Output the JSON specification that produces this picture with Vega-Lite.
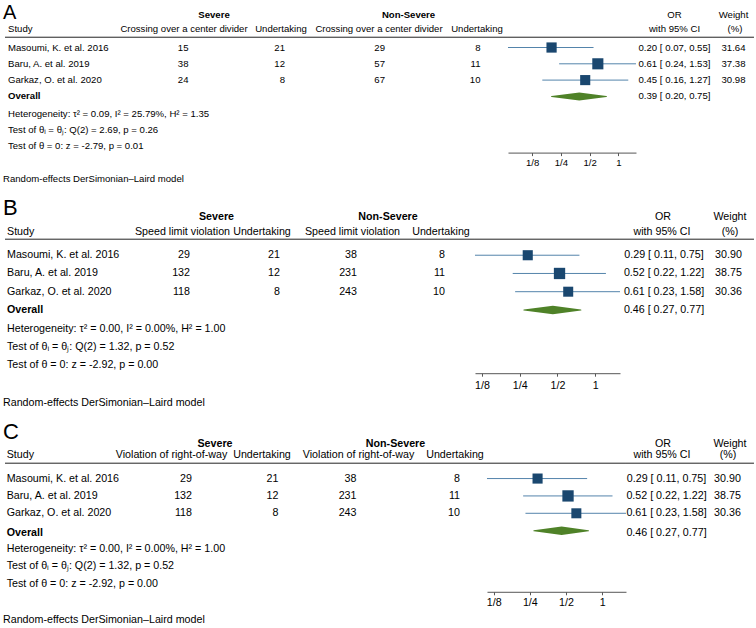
{
  "$schema": "https://vega.github.io/schema/vega-lite/v6.json",
  "padding": {"left": 3, "top": 2.6, "right": 0, "bottom": 0},
  "background": "#ffffff",
  "config": {"view": {"stroke": null}, "text": {"font": "Liberation Sans", "color": "#000000"}, "title": {"font": "Liberation Sans"}},
  "spacing": 12.6,
  "datasets": {
    "A": [
      {"row": "Masoumi, K. et al. 2016", "sev_exp": 15, "sev_und": 21, "ns_exp": 29, "ns_und": 8, "or": 0.20, "lo": 0.07, "hi": 0.55, "ci": "0.20 [ 0.07, 0.55]", "weight": 31.64},
      {"row": "Baru, A. et al. 2019", "sev_exp": 38, "sev_und": 12, "ns_exp": 57, "ns_und": 11, "or": 0.61, "lo": 0.24, "hi": 1.53, "ci": "0.61 [ 0.24, 1.53]", "weight": 37.38},
      {"row": "Garkaz, O. et al. 2020", "sev_exp": 24, "sev_und": 8, "ns_exp": 67, "ns_und": 10, "or": 0.45, "lo": 0.16, "hi": 1.27, "ci": "0.45 [ 0.16, 1.27]", "weight": 30.98}
    ],
    "A_ov": [{"row": "Overall", "or": 0.39, "lo": 0.20, "hi": 0.75, "ci": "0.39 [ 0.20, 0.75]"}],
    "A_txt": [
      {"col": "study", "row": "h1", "text": "A"},
      {"col": "study", "row": "h2", "text": "Study"},
      {"col": "study", "row": "het", "text": "Heterogeneity: τ² = 0.09, I² = 25.79%, H² = 1.35"},
      {"col": "study", "row": "q", "text": "Test of θᵢ = θⱼ: Q(2) = 2.69, p = 0.26"},
      {"col": "study", "row": "z", "text": "Test of θ = 0: z = -2.79, p = 0.01"},
      {"col": "sev_exp", "row": "h1", "text": "Severe"},
      {"col": "sev_exp", "row": "h2", "text": "Crossing over a center divider"},
      {"col": "sev_und", "row": "h2", "text": "Undertaking"},
      {"col": "ns_exp", "row": "h1", "text": "Non-Severe"},
      {"col": "ns_exp", "row": "h2", "text": "Crossing over a center divider"},
      {"col": "ns_und", "row": "h2", "text": "Undertaking"},
      {"col": "or", "row": "h1", "text": "OR"},
      {"col": "or", "row": "h2", "text": "with 95% CI"},
      {"col": "w", "row": "h1", "text": "Weight"},
      {"col": "w", "row": "h2", "text": "(%)"}
    ],
    "B": [
      {"row": "Masoumi, K. et al. 2016", "sev_exp": 29, "sev_und": 21, "ns_exp": 38, "ns_und": 8, "or": 0.29, "lo": 0.11, "hi": 0.75, "ci": "0.29 [ 0.11, 0.75]", "weight": 30.90},
      {"row": "Baru, A. et al. 2019", "sev_exp": 132, "sev_und": 12, "ns_exp": 231, "ns_und": 11, "or": 0.52, "lo": 0.22, "hi": 1.22, "ci": "0.52 [ 0.22, 1.22]", "weight": 38.75},
      {"row": "Garkaz, O. et al. 2020", "sev_exp": 118, "sev_und": 8, "ns_exp": 243, "ns_und": 10, "or": 0.61, "lo": 0.23, "hi": 1.58, "ci": "0.61 [ 0.23, 1.58]", "weight": 30.36}
    ],
    "B_ov": [{"row": "Overall", "or": 0.46, "lo": 0.27, "hi": 0.77, "ci": "0.46 [ 0.27, 0.77]"}],
    "B_txt": [
      {"col": "study", "row": "h1", "text": "B"},
      {"col": "study", "row": "h2", "text": "Study"},
      {"col": "study", "row": "het", "text": "Heterogeneity: τ² = 0.00, I² = 0.00%, H² = 1.00"},
      {"col": "study", "row": "q", "text": "Test of θᵢ = θⱼ: Q(2) = 1.32, p = 0.52"},
      {"col": "study", "row": "z", "text": "Test of θ = 0: z = -2.92, p = 0.00"},
      {"col": "sev_exp", "row": "h1", "text": "Severe"},
      {"col": "sev_exp", "row": "h2", "text": "Speed limit violation"},
      {"col": "sev_und", "row": "h2", "text": "Undertaking"},
      {"col": "ns_exp", "row": "h1", "text": "Non-Severe"},
      {"col": "ns_exp", "row": "h2", "text": "Speed limit violation"},
      {"col": "ns_und", "row": "h2", "text": "Undertaking"},
      {"col": "or", "row": "h1", "text": "OR"},
      {"col": "or", "row": "h2", "text": "with 95% CI"},
      {"col": "w", "row": "h1", "text": "Weight"},
      {"col": "w", "row": "h2", "text": "(%)"}
    ],
    "C": [
      {"row": "Masoumi, K. et al. 2016", "sev_exp": 29, "sev_und": 21, "ns_exp": 38, "ns_und": 8, "or": 0.29, "lo": 0.11, "hi": 0.75, "ci": "0.29 [ 0.11, 0.75]", "weight": 30.90},
      {"row": "Baru, A. et al. 2019", "sev_exp": 132, "sev_und": 12, "ns_exp": 231, "ns_und": 11, "or": 0.52, "lo": 0.22, "hi": 1.22, "ci": "0.52 [ 0.22, 1.22]", "weight": 38.75},
      {"row": "Garkaz, O. et al. 2020", "sev_exp": 118, "sev_und": 8, "ns_exp": 243, "ns_und": 10, "or": 0.61, "lo": 0.23, "hi": 1.58, "ci": "0.61 [ 0.23, 1.58]", "weight": 30.36}
    ],
    "C_ov": [{"row": "Overall", "or": 0.46, "lo": 0.27, "hi": 0.77, "ci": "0.46 [ 0.27, 0.77]"}],
    "C_txt": [
      {"col": "study", "row": "h1", "text": "C"},
      {"col": "study", "row": "h2", "text": "Study"},
      {"col": "study", "row": "het", "text": "Heterogeneity: τ² = 0.00, I² = 0.00%, H² = 1.00"},
      {"col": "study", "row": "q", "text": "Test of θᵢ = θⱼ: Q(2) = 1.32, p = 0.52"},
      {"col": "study", "row": "z", "text": "Test of θ = 0: z = -2.92, p = 0.00"},
      {"col": "sev_exp", "row": "h1", "text": "Severe"},
      {"col": "sev_exp", "row": "h2", "text": "Violation of right-of-way"},
      {"col": "sev_und", "row": "h2", "text": "Undertaking"},
      {"col": "ns_exp", "row": "h1", "text": "Non-Severe"},
      {"col": "ns_exp", "row": "h2", "text": "Violation of right-of-way"},
      {"col": "ns_und", "row": "h2", "text": "Undertaking"},
      {"col": "or", "row": "h1", "text": "OR"},
      {"col": "or", "row": "h2", "text": "with 95% CI"},
      {"col": "w", "row": "h1", "text": "Weight"},
      {"col": "w", "row": "h2", "text": "(%)"}
    ]
  },
  "vconcat": [
    {
      "title": {"text": "Random-effects DerSimonian–Laird model", "orient": "bottom", "anchor": "start", "fontSize": 9.6, "fontWeight": "normal", "color": "#000000", "offset": 7},
      "bounds": "flush",
      "spacing": 0,
      "hconcat": [
        {
          "width": 113, "height": 145,
          "encoding": {"y": {"field": "row", "type": "nominal", "axis": null, "scale": {"type": "point", "padding": 0.45, "domain": ["h1", "h2", "Masoumi, K. et al. 2016", "Baru, A. et al. 2019", "Garkaz, O. et al. 2020", "Overall", "het", "q", "z"]}}},
          "layer": [
            {"data": {"name": "A_txt"}, "transform": [{"filter": "datum.col=='study' && datum.row=='h2'"}], "mark": {"type": "rule", "yOffset": 6, "color": "#222222"}, "encoding": {}},
            {"data": {"name": "A_txt"}, "transform": [{"filter": "datum.col=='study' && datum.row=='h1'"}], "mark": {"type": "text", "align": "left", "baseline": "alphabetic", "fontSize": 20, "dx": -58.5, "dy": 3.7}, "encoding": {"text": {"field": "text"}}},
            {"data": {"name": "A_txt"}, "transform": [{"filter": "datum.col=='study' && datum.row=='h2'"}], "mark": {"type": "text", "align": "left", "fontSize": 9.6, "dx": -53.5, "dy": -2.6}, "encoding": {"text": {"field": "text"}}},
            {"data": {"name": "A"}, "mark": {"type": "text", "align": "left", "fontSize": 9.6, "dx": -53.5}, "encoding": {"text": {"field": "row"}}},
            {"data": {"name": "A_ov"}, "mark": {"type": "text", "align": "left", "fontSize": 9.6, "fontWeight": "bold", "dx": -53.5}, "encoding": {"text": {"field": "row"}}},
            {"data": {"name": "A_txt"}, "transform": [{"filter": "datum.col=='study' && indexof(['het','q','z'], datum.row) >= 0"}], "mark": {"type": "text", "align": "left", "fontSize": 9.6, "dx": -53.5, "dy": 1}, "encoding": {"text": {"field": "text"}}}
          ]
        },
        {
          "width": 132, "height": 145,
          "encoding": {"y": {"field": "row", "type": "nominal", "axis": null, "scale": {"type": "point", "padding": 0.45, "domain": ["h1", "h2", "Masoumi, K. et al. 2016", "Baru, A. et al. 2019", "Garkaz, O. et al. 2020", "Overall", "het", "q", "z"]}}},
          "layer": [
            {"data": {"name": "A_txt"}, "transform": [{"filter": "datum.col=='study' && datum.row=='h2'"}], "mark": {"type": "rule", "yOffset": 6, "color": "#222222"}, "encoding": {}},
            {"data": {"name": "A_txt"}, "transform": [{"filter": "datum.col=='sev_exp' && datum.row=='h1'"}], "mark": {"type": "text", "fontSize": 9.6, "fontWeight": "bold", "dx": 30}, "encoding": {"text": {"field": "text"}}},
            {"data": {"name": "A_txt"}, "transform": [{"filter": "datum.col=='sev_exp' && datum.row=='h2'"}], "mark": {"type": "text", "fontSize": 9.6, "dy": -2.6}, "encoding": {"text": {"field": "text"}}},
            {"data": {"name": "A"}, "mark": {"type": "text", "align": "right", "fontSize": 9.6, "dx": 4.5}, "encoding": {"text": {"field": "sev_exp", "type": "quantitative"}}}
          ]
        },
        {
          "width": 62, "height": 145,
          "encoding": {"y": {"field": "row", "type": "nominal", "axis": null, "scale": {"type": "point", "padding": 0.45, "domain": ["h1", "h2", "Masoumi, K. et al. 2016", "Baru, A. et al. 2019", "Garkaz, O. et al. 2020", "Overall", "het", "q", "z"]}}},
          "layer": [
            {"data": {"name": "A_txt"}, "transform": [{"filter": "datum.col=='study' && datum.row=='h2'"}], "mark": {"type": "rule", "yOffset": 6, "color": "#222222"}, "encoding": {}},
            {"data": {"name": "A_txt"}, "transform": [{"filter": "datum.col=='sev_und' && datum.row=='h2'"}], "mark": {"type": "text", "fontSize": 9.6, "dy": -2.6}, "encoding": {"text": {"field": "text"}}},
            {"data": {"name": "A"}, "mark": {"type": "text", "align": "right", "fontSize": 9.6, "dx": 4}, "encoding": {"text": {"field": "sev_und", "type": "quantitative"}}}
          ]
        },
        {
          "width": 134, "height": 145,
          "encoding": {"y": {"field": "row", "type": "nominal", "axis": null, "scale": {"type": "point", "padding": 0.45, "domain": ["h1", "h2", "Masoumi, K. et al. 2016", "Baru, A. et al. 2019", "Garkaz, O. et al. 2020", "Overall", "het", "q", "z"]}}},
          "layer": [
            {"data": {"name": "A_txt"}, "transform": [{"filter": "datum.col=='study' && datum.row=='h2'"}], "mark": {"type": "rule", "yOffset": 6, "color": "#222222"}, "encoding": {}},
            {"data": {"name": "A_txt"}, "transform": [{"filter": "datum.col=='ns_exp' && datum.row=='h1'"}], "mark": {"type": "text", "fontSize": 9.6, "fontWeight": "bold", "dx": 29.5}, "encoding": {"text": {"field": "text"}}},
            {"data": {"name": "A_txt"}, "transform": [{"filter": "datum.col=='ns_exp' && datum.row=='h2'"}], "mark": {"type": "text", "fontSize": 9.6, "dy": -2.6}, "encoding": {"text": {"field": "text"}}},
            {"data": {"name": "A"}, "mark": {"type": "text", "align": "right", "fontSize": 9.6, "dx": 6}, "encoding": {"text": {"field": "ns_exp", "type": "quantitative"}}}
          ]
        },
        {
          "width": 62, "height": 145,
          "encoding": {"y": {"field": "row", "type": "nominal", "axis": null, "scale": {"type": "point", "padding": 0.45, "domain": ["h1", "h2", "Masoumi, K. et al. 2016", "Baru, A. et al. 2019", "Garkaz, O. et al. 2020", "Overall", "het", "q", "z"]}}},
          "layer": [
            {"data": {"name": "A_txt"}, "transform": [{"filter": "datum.col=='study' && datum.row=='h2'"}], "mark": {"type": "rule", "yOffset": 6, "color": "#222222"}, "encoding": {}},
            {"data": {"name": "A_txt"}, "transform": [{"filter": "datum.col=='ns_und' && datum.row=='h2'"}], "mark": {"type": "text", "fontSize": 9.6, "dy": -2.6}, "encoding": {"text": {"field": "text"}}},
            {"data": {"name": "A"}, "mark": {"type": "text", "align": "right", "fontSize": 9.6, "dx": 3.5}, "encoding": {"text": {"field": "ns_und", "type": "quantitative"}}}
          ]
        },
        {
          "width": 128, "height": 145,
          "encoding": {"y": {"field": "row", "type": "nominal", "axis": null, "scale": {"type": "point", "padding": 0.45, "domain": ["h1", "h2", "Masoumi, K. et al. 2016", "Baru, A. et al. 2019", "Garkaz, O. et al. 2020", "Overall", "het", "q", "z"]}}},
          "layer": [
            {"data": {"name": "A_txt"}, "transform": [{"filter": "datum.col=='study' && datum.row=='h2'"}], "mark": {"type": "rule", "yOffset": 6, "color": "#222222"}, "encoding": {}},
            {"data": {"name": "A"}, "mark": {"type": "rule", "color": "#5384ab", "strokeWidth": 1}, "encoding": {"x": {"field": "lo", "type": "quantitative", "scale": {"type": "log", "base": 2, "domain": [0.07, 1.53], "nice": false, "zero": false}, "axis": {"orient": "bottom", "values": [0.125, 0.25, 0.5, 1], "labelExpr": "datum.value == 0.125 ? '1/8' : datum.value == 0.25 ? '1/4' : datum.value == 0.5 ? '1/2' : '1'", "title": null, "grid": false, "domainColor": "#555555", "tickColor": "#555555", "tickSize": 3, "labelFontSize": 9.6, "labelFont": "Liberation Sans", "labelColor": "#000000", "labelPadding": 2, "labelFlush": false, "labelOverlap": false}}, "x2": {"field": "hi"}}},
            {"data": {"name": "A"}, "mark": {"type": "point", "shape": "square", "filled": true, "opacity": 1, "color": "#1a476f"}, "encoding": {"x": {"field": "or", "type": "quantitative"}, "size": {"field": "weight", "type": "quantitative", "scale": {"domain": [0, 40], "range": [0, 132]}, "legend": null}}},
            {"data": {"name": "A_ov"}, "transform": [{"fold": ["lo", "or", "hi"], "as": ["key", "val"]}], "mark": {"type": "trail", "color": "#4f8228"}, "encoding": {"x": {"field": "val", "type": "quantitative"}, "size": {"condition": {"test": "datum.key=='or'", "value": 8}, "value": 0}}}
          ]
        },
        {
          "width": 77, "height": 145,
          "encoding": {"y": {"field": "row", "type": "nominal", "axis": null, "scale": {"type": "point", "padding": 0.45, "domain": ["h1", "h2", "Masoumi, K. et al. 2016", "Baru, A. et al. 2019", "Garkaz, O. et al. 2020", "Overall", "het", "q", "z"]}}},
          "layer": [
            {"data": {"name": "A_txt"}, "transform": [{"filter": "datum.col=='study' && datum.row=='h2'"}], "mark": {"type": "rule", "yOffset": 6, "color": "#222222"}, "encoding": {}},
            {"data": {"name": "A_txt"}, "transform": [{"filter": "datum.col=='or' && datum.row=='h1'"}], "mark": {"type": "text", "fontSize": 9.6}, "encoding": {"text": {"field": "text"}}},
            {"data": {"name": "A_txt"}, "transform": [{"filter": "datum.col=='or' && datum.row=='h2'"}], "mark": {"type": "text", "fontSize": 9.6, "dy": -2.6}, "encoding": {"text": {"field": "text"}}},
            {"data": {"name": "A"}, "mark": {"type": "text", "fontSize": 9.6}, "encoding": {"text": {"field": "ci"}}},
            {"data": {"name": "A_ov"}, "mark": {"type": "text", "fontSize": 9.6}, "encoding": {"text": {"field": "ci"}}}
          ]
        },
        {
          "width": 41, "height": 145,
          "encoding": {"y": {"field": "row", "type": "nominal", "axis": null, "scale": {"type": "point", "padding": 0.45, "domain": ["h1", "h2", "Masoumi, K. et al. 2016", "Baru, A. et al. 2019", "Garkaz, O. et al. 2020", "Overall", "het", "q", "z"]}}},
          "layer": [
            {"data": {"name": "A_txt"}, "transform": [{"filter": "datum.col=='study' && datum.row=='h2'"}], "mark": {"type": "rule", "yOffset": 6, "color": "#222222"}, "encoding": {}},
            {"data": {"name": "A_txt"}, "transform": [{"filter": "datum.col=='w' && datum.row=='h1'"}], "mark": {"type": "text", "fontSize": 9.6}, "encoding": {"text": {"field": "text"}}},
            {"data": {"name": "A_txt"}, "transform": [{"filter": "datum.col=='w' && datum.row=='h2'"}], "mark": {"type": "text", "fontSize": 9.6, "dy": -2.6, "dx": 1.5}, "encoding": {"text": {"field": "text"}}},
            {"data": {"name": "A"}, "mark": {"type": "text", "fontSize": 9.6}, "encoding": {"text": {"field": "weight", "type": "quantitative", "format": ".2f"}}}
          ]
        }
      ]
    },
    {
      "title": {"text": "Random-effects DerSimonian–Laird model", "orient": "bottom", "anchor": "start", "fontSize": 10.7, "fontWeight": "normal", "color": "#000000", "offset": 7.8},
      "bounds": "flush",
      "spacing": 0,
      "hconcat": [
        {
          "width": 125, "height": 163,
          "encoding": {"y": {"field": "row", "type": "nominal", "axis": null, "scale": {"type": "point", "padding": 0.47, "domain": ["h1", "h2", "Masoumi, K. et al. 2016", "Baru, A. et al. 2019", "Garkaz, O. et al. 2020", "Overall", "het", "q", "z"]}}},
          "layer": [
            {"data": {"name": "B_txt"}, "transform": [{"filter": "datum.col=='study' && datum.row=='h2'"}], "mark": {"type": "rule", "yOffset": 2.2, "color": "#222222"}, "encoding": {}},
            {"data": {"name": "B_txt"}, "transform": [{"filter": "datum.col=='study' && datum.row=='h1'"}], "mark": {"type": "text", "align": "left", "baseline": "alphabetic", "fontSize": 22, "dx": -64.5, "dy": -3.5}, "encoding": {"text": {"field": "text"}}},
            {"data": {"name": "B_txt"}, "transform": [{"filter": "datum.col=='study' && datum.row=='h2'"}], "mark": {"type": "text", "align": "left", "fontSize": 10.7, "dx": -60.5, "dy": -5}, "encoding": {"text": {"field": "text"}}},
            {"data": {"name": "B"}, "mark": {"type": "text", "align": "left", "fontSize": 10.7, "dx": -60.5}, "encoding": {"text": {"field": "row"}}},
            {"data": {"name": "B_ov"}, "mark": {"type": "text", "align": "left", "fontSize": 10.7, "fontWeight": "bold", "dx": -60.5}, "encoding": {"text": {"field": "row"}}},
            {"data": {"name": "B_txt"}, "transform": [{"filter": "datum.col=='study' && indexof(['het','q','z'], datum.row) >= 0"}], "mark": {"type": "text", "align": "left", "fontSize": 10.7, "dx": -60.5, "dy": 0.5}, "encoding": {"text": {"field": "text"}}}
          ]
        },
        {
          "width": 105, "height": 163,
          "encoding": {"y": {"field": "row", "type": "nominal", "axis": null, "scale": {"type": "point", "padding": 0.47, "domain": ["h1", "h2", "Masoumi, K. et al. 2016", "Baru, A. et al. 2019", "Garkaz, O. et al. 2020", "Overall", "het", "q", "z"]}}},
          "layer": [
            {"data": {"name": "B_txt"}, "transform": [{"filter": "datum.col=='study' && datum.row=='h2'"}], "mark": {"type": "rule", "yOffset": 2.2, "color": "#222222"}, "encoding": {}},
            {"data": {"name": "B_txt"}, "transform": [{"filter": "datum.col=='sev_exp' && datum.row=='h1'"}], "mark": {"type": "text", "fontSize": 10.7, "fontWeight": "bold", "dx": 34, "dy": -2}, "encoding": {"text": {"field": "text"}}},
            {"data": {"name": "B_txt"}, "transform": [{"filter": "datum.col=='sev_exp' && datum.row=='h2'"}], "mark": {"type": "text", "fontSize": 10.7, "dy": -5}, "encoding": {"text": {"field": "text"}}},
            {"data": {"name": "B"}, "mark": {"type": "text", "align": "right", "fontSize": 10.7, "dx": 7.5}, "encoding": {"text": {"field": "sev_exp", "type": "quantitative"}}}
          ]
        },
        {
          "width": 54, "height": 163,
          "encoding": {"y": {"field": "row", "type": "nominal", "axis": null, "scale": {"type": "point", "padding": 0.47, "domain": ["h1", "h2", "Masoumi, K. et al. 2016", "Baru, A. et al. 2019", "Garkaz, O. et al. 2020", "Overall", "het", "q", "z"]}}},
          "layer": [
            {"data": {"name": "B_txt"}, "transform": [{"filter": "datum.col=='study' && datum.row=='h2'"}], "mark": {"type": "rule", "yOffset": 2.2, "color": "#222222"}, "encoding": {}},
            {"data": {"name": "B_txt"}, "transform": [{"filter": "datum.col=='sev_und' && datum.row=='h2'"}], "mark": {"type": "text", "fontSize": 10.7, "dy": -5}, "encoding": {"text": {"field": "text"}}},
            {"data": {"name": "B"}, "mark": {"type": "text", "align": "right", "fontSize": 10.7, "dx": 18}, "encoding": {"text": {"field": "sev_und", "type": "quantitative"}}}
          ]
        },
        {
          "width": 127, "height": 163,
          "encoding": {"y": {"field": "row", "type": "nominal", "axis": null, "scale": {"type": "point", "padding": 0.47, "domain": ["h1", "h2", "Masoumi, K. et al. 2016", "Baru, A. et al. 2019", "Garkaz, O. et al. 2020", "Overall", "het", "q", "z"]}}},
          "layer": [
            {"data": {"name": "B_txt"}, "transform": [{"filter": "datum.col=='study' && datum.row=='h2'"}], "mark": {"type": "rule", "yOffset": 2.2, "color": "#222222"}, "encoding": {}},
            {"data": {"name": "B_txt"}, "transform": [{"filter": "datum.col=='ns_exp' && datum.row=='h1'"}], "mark": {"type": "text", "fontSize": 10.7, "fontWeight": "bold", "dx": 35.5, "dy": -2}, "encoding": {"text": {"field": "text"}}},
            {"data": {"name": "B_txt"}, "transform": [{"filter": "datum.col=='ns_exp' && datum.row=='h2'"}], "mark": {"type": "text", "fontSize": 10.7, "dy": -5}, "encoding": {"text": {"field": "text"}}},
            {"data": {"name": "B"}, "mark": {"type": "text", "align": "right", "fontSize": 10.7, "dx": 4.5}, "encoding": {"text": {"field": "ns_exp", "type": "quantitative"}}}
          ]
        },
        {
          "width": 59, "height": 163,
          "encoding": {"y": {"field": "row", "type": "nominal", "axis": null, "scale": {"type": "point", "padding": 0.47, "domain": ["h1", "h2", "Masoumi, K. et al. 2016", "Baru, A. et al. 2019", "Garkaz, O. et al. 2020", "Overall", "het", "q", "z"]}}},
          "layer": [
            {"data": {"name": "B_txt"}, "transform": [{"filter": "datum.col=='study' && datum.row=='h2'"}], "mark": {"type": "rule", "yOffset": 2.2, "color": "#222222"}, "encoding": {}},
            {"data": {"name": "B_txt"}, "transform": [{"filter": "datum.col=='ns_und' && datum.row=='h2'"}], "mark": {"type": "text", "fontSize": 10.7, "dy": -5, "dx": -4.5}, "encoding": {"text": {"field": "text"}}},
            {"data": {"name": "B"}, "mark": {"type": "text", "align": "right", "fontSize": 10.7, "dx": -0.5}, "encoding": {"text": {"field": "ns_und", "type": "quantitative"}}}
          ]
        },
        {
          "width": 145, "height": 163,
          "encoding": {"y": {"field": "row", "type": "nominal", "axis": null, "scale": {"type": "point", "padding": 0.47, "domain": ["h1", "h2", "Masoumi, K. et al. 2016", "Baru, A. et al. 2019", "Garkaz, O. et al. 2020", "Overall", "het", "q", "z"]}}},
          "layer": [
            {"data": {"name": "B_txt"}, "transform": [{"filter": "datum.col=='study' && datum.row=='h2'"}], "mark": {"type": "rule", "yOffset": 2.2, "color": "#222222"}, "encoding": {}},
            {"data": {"name": "B"}, "mark": {"type": "rule", "color": "#5384ab", "strokeWidth": 1}, "encoding": {"x": {"field": "lo", "type": "quantitative", "scale": {"type": "log", "base": 2, "domain": [0.11, 1.58], "nice": false, "zero": false}, "axis": {"orient": "bottom", "values": [0.125, 0.25, 0.5, 1], "labelExpr": "datum.value == 0.125 ? '1/8' : datum.value == 0.25 ? '1/4' : datum.value == 0.5 ? '1/2' : '1'", "title": null, "grid": false, "domainColor": "#555555", "tickColor": "#555555", "tickSize": 3, "labelFontSize": 10.7, "labelFont": "Liberation Sans", "labelColor": "#000000", "labelPadding": 4, "labelFlush": false, "labelOverlap": false}}, "x2": {"field": "hi"}}},
            {"data": {"name": "B"}, "mark": {"type": "point", "shape": "square", "filled": true, "opacity": 1, "color": "#1a476f"}, "encoding": {"x": {"field": "or", "type": "quantitative"}, "size": {"field": "weight", "type": "quantitative", "scale": {"domain": [0, 40], "range": [0, 140]}, "legend": null}}},
            {"data": {"name": "B_ov"}, "transform": [{"fold": ["lo", "or", "hi"], "as": ["key", "val"]}], "mark": {"type": "trail", "color": "#4f8228"}, "encoding": {"x": {"field": "val", "type": "quantitative"}, "size": {"condition": {"test": "datum.key=='or'", "value": 8.5}, "value": 0}}}
          ]
        },
        {
          "width": 86, "height": 163,
          "encoding": {"y": {"field": "row", "type": "nominal", "axis": null, "scale": {"type": "point", "padding": 0.47, "domain": ["h1", "h2", "Masoumi, K. et al. 2016", "Baru, A. et al. 2019", "Garkaz, O. et al. 2020", "Overall", "het", "q", "z"]}}},
          "layer": [
            {"data": {"name": "B_txt"}, "transform": [{"filter": "datum.col=='study' && datum.row=='h2'"}], "mark": {"type": "rule", "yOffset": 2.2, "color": "#222222"}, "encoding": {}},
            {"data": {"name": "B_txt"}, "transform": [{"filter": "datum.col=='or' && datum.row=='h1'"}], "mark": {"type": "text", "fontSize": 10.7, "dy": -2}, "encoding": {"text": {"field": "text"}}},
            {"data": {"name": "B_txt"}, "transform": [{"filter": "datum.col=='or' && datum.row=='h2'"}], "mark": {"type": "text", "fontSize": 10.7, "dy": -5, "dx": -1}, "encoding": {"text": {"field": "text"}}},
            {"data": {"name": "B"}, "mark": {"type": "text", "fontSize": 10.7, "dx": 1}, "encoding": {"text": {"field": "ci"}}},
            {"data": {"name": "B_ov"}, "mark": {"type": "text", "fontSize": 10.7, "dx": 1}, "encoding": {"text": {"field": "ci"}}}
          ]
        },
        {
          "width": 48, "height": 163,
          "encoding": {"y": {"field": "row", "type": "nominal", "axis": null, "scale": {"type": "point", "padding": 0.47, "domain": ["h1", "h2", "Masoumi, K. et al. 2016", "Baru, A. et al. 2019", "Garkaz, O. et al. 2020", "Overall", "het", "q", "z"]}}},
          "layer": [
            {"data": {"name": "B_txt"}, "transform": [{"filter": "datum.col=='study' && datum.row=='h2'"}], "mark": {"type": "rule", "yOffset": 2.2, "color": "#222222"}, "encoding": {}},
            {"data": {"name": "B_txt"}, "transform": [{"filter": "datum.col=='w' && datum.row=='h1'"}], "mark": {"type": "text", "fontSize": 10.7, "dy": -2}, "encoding": {"text": {"field": "text"}}},
            {"data": {"name": "B_txt"}, "transform": [{"filter": "datum.col=='w' && datum.row=='h2'"}], "mark": {"type": "text", "fontSize": 10.7, "dy": -5}, "encoding": {"text": {"field": "text"}}},
            {"data": {"name": "B"}, "mark": {"type": "text", "fontSize": 10.7, "dx": -1.5}, "encoding": {"text": {"field": "weight", "type": "quantitative", "format": ".2f"}}}
          ]
        }
      ]
    },
    {
      "title": {"text": "Random-effects DerSimonian–Laird model", "orient": "bottom", "anchor": "start", "fontSize": 10.7, "fontWeight": "normal", "color": "#000000", "offset": 7.5},
      "bounds": "flush",
      "spacing": 0,
      "hconcat": [
        {
          "width": 105, "height": 157,
          "encoding": {"y": {"field": "row", "type": "nominal", "axis": null, "scale": {"type": "point", "padding": 0.52, "domain": ["h1", "h2", "Masoumi, K. et al. 2016", "Baru, A. et al. 2019", "Garkaz, O. et al. 2020", "Overall", "het", "q", "z"]}}},
          "layer": [
            {"data": {"name": "C_txt"}, "transform": [{"filter": "datum.col=='study' && datum.row=='h2'"}], "mark": {"type": "rule", "yOffset": 2, "color": "#222222"}, "encoding": {}},
            {"data": {"name": "C_txt"}, "transform": [{"filter": "datum.col=='study' && datum.row=='h1'"}], "mark": {"type": "text", "align": "left", "baseline": "alphabetic", "fontSize": 22, "dx": -54.5, "dy": -5}, "encoding": {"text": {"field": "text"}}},
            {"data": {"name": "C_txt"}, "transform": [{"filter": "datum.col=='study' && datum.row=='h2'"}], "mark": {"type": "text", "align": "left", "fontSize": 10.7, "dx": -50.8, "dy": -5.7}, "encoding": {"text": {"field": "text"}}},
            {"data": {"name": "C"}, "mark": {"type": "text", "align": "left", "fontSize": 10.7, "dx": -50.8}, "encoding": {"text": {"field": "row"}}},
            {"data": {"name": "C_ov"}, "mark": {"type": "text", "align": "left", "fontSize": 10.7, "fontWeight": "bold", "dx": -50.8, "dy": 2}, "encoding": {"text": {"field": "row"}}},
            {"data": {"name": "C_txt"}, "transform": [{"filter": "datum.col=='study' && indexof(['het','q','z'], datum.row) >= 0"}], "mark": {"type": "text", "align": "left", "fontSize": 10.7, "dx": -50.8, "dy": 1}, "encoding": {"text": {"field": "text"}}}
          ]
        },
        {
          "width": 123, "height": 157,
          "encoding": {"y": {"field": "row", "type": "nominal", "axis": null, "scale": {"type": "point", "padding": 0.52, "domain": ["h1", "h2", "Masoumi, K. et al. 2016", "Baru, A. et al. 2019", "Garkaz, O. et al. 2020", "Overall", "het", "q", "z"]}}},
          "layer": [
            {"data": {"name": "C_txt"}, "transform": [{"filter": "datum.col=='study' && datum.row=='h2'"}], "mark": {"type": "rule", "yOffset": 2, "color": "#222222"}, "encoding": {}},
            {"data": {"name": "C_txt"}, "transform": [{"filter": "datum.col=='sev_exp' && datum.row=='h1'"}], "mark": {"type": "text", "fontSize": 10.7, "fontWeight": "bold", "dx": 43.5}, "encoding": {"text": {"field": "text"}}},
            {"data": {"name": "C_txt"}, "transform": [{"filter": "datum.col=='sev_exp' && datum.row=='h2'"}], "mark": {"type": "text", "fontSize": 10.7, "dy": -5.7}, "encoding": {"text": {"field": "text"}}},
            {"data": {"name": "C"}, "mark": {"type": "text", "align": "right", "fontSize": 10.7, "dx": 20.5}, "encoding": {"text": {"field": "sev_exp", "type": "quantitative"}}}
          ]
        },
        {
          "width": 58, "height": 157,
          "encoding": {"y": {"field": "row", "type": "nominal", "axis": null, "scale": {"type": "point", "padding": 0.52, "domain": ["h1", "h2", "Masoumi, K. et al. 2016", "Baru, A. et al. 2019", "Garkaz, O. et al. 2020", "Overall", "het", "q", "z"]}}},
          "layer": [
            {"data": {"name": "C_txt"}, "transform": [{"filter": "datum.col=='study' && datum.row=='h2'"}], "mark": {"type": "rule", "yOffset": 2, "color": "#222222"}, "encoding": {}},
            {"data": {"name": "C_txt"}, "transform": [{"filter": "datum.col=='sev_und' && datum.row=='h2'"}], "mark": {"type": "text", "fontSize": 10.7, "dy": -5.7}, "encoding": {"text": {"field": "text"}}},
            {"data": {"name": "C"}, "mark": {"type": "text", "align": "right", "fontSize": 10.7, "dx": 16.5}, "encoding": {"text": {"field": "sev_und", "type": "quantitative"}}}
          ]
        },
        {
          "width": 135, "height": 157,
          "encoding": {"y": {"field": "row", "type": "nominal", "axis": null, "scale": {"type": "point", "padding": 0.52, "domain": ["h1", "h2", "Masoumi, K. et al. 2016", "Baru, A. et al. 2019", "Garkaz, O. et al. 2020", "Overall", "het", "q", "z"]}}},
          "layer": [
            {"data": {"name": "C_txt"}, "transform": [{"filter": "datum.col=='study' && datum.row=='h2'"}], "mark": {"type": "rule", "yOffset": 2, "color": "#222222"}, "encoding": {}},
            {"data": {"name": "C_txt"}, "transform": [{"filter": "datum.col=='ns_exp' && datum.row=='h1'"}], "mark": {"type": "text", "fontSize": 10.7, "fontWeight": "bold", "dx": 37}, "encoding": {"text": {"field": "text"}}},
            {"data": {"name": "C_txt"}, "transform": [{"filter": "datum.col=='ns_exp' && datum.row=='h2'"}], "mark": {"type": "text", "fontSize": 10.7, "dy": -5.7}, "encoding": {"text": {"field": "text"}}},
            {"data": {"name": "C"}, "mark": {"type": "text", "align": "right", "fontSize": 10.7, "dx": -2}, "encoding": {"text": {"field": "ns_exp", "type": "quantitative"}}}
          ]
        },
        {
          "width": 61, "height": 157,
          "encoding": {"y": {"field": "row", "type": "nominal", "axis": null, "scale": {"type": "point", "padding": 0.52, "domain": ["h1", "h2", "Masoumi, K. et al. 2016", "Baru, A. et al. 2019", "Garkaz, O. et al. 2020", "Overall", "het", "q", "z"]}}},
          "layer": [
            {"data": {"name": "C_txt"}, "transform": [{"filter": "datum.col=='study' && datum.row=='h2'"}], "mark": {"type": "rule", "yOffset": 2, "color": "#222222"}, "encoding": {}},
            {"data": {"name": "C_txt"}, "transform": [{"filter": "datum.col=='ns_und' && datum.row=='h2'"}], "mark": {"type": "text", "fontSize": 10.7, "dy": -5.7, "dx": -1.5}, "encoding": {"text": {"field": "text"}}},
            {"data": {"name": "C"}, "mark": {"type": "text", "align": "right", "fontSize": 10.7, "dx": 3.5}, "encoding": {"text": {"field": "ns_und", "type": "quantitative"}}}
          ]
        },
        {
          "width": 139, "height": 157,
          "encoding": {"y": {"field": "row", "type": "nominal", "axis": null, "scale": {"type": "point", "padding": 0.52, "domain": ["h1", "h2", "Masoumi, K. et al. 2016", "Baru, A. et al. 2019", "Garkaz, O. et al. 2020", "Overall", "het", "q", "z"]}}},
          "layer": [
            {"data": {"name": "C_txt"}, "transform": [{"filter": "datum.col=='study' && datum.row=='h2'"}], "mark": {"type": "rule", "yOffset": 2, "color": "#222222"}, "encoding": {}},
            {"data": {"name": "C"}, "mark": {"type": "rule", "color": "#5384ab", "strokeWidth": 1}, "encoding": {"x": {"field": "lo", "type": "quantitative", "scale": {"type": "log", "base": 2, "domain": [0.11, 1.58], "nice": false, "zero": false}, "axis": {"orient": "bottom", "values": [0.125, 0.25, 0.5, 1], "labelExpr": "datum.value == 0.125 ? '1/8' : datum.value == 0.25 ? '1/4' : datum.value == 0.5 ? '1/2' : '1'", "title": null, "grid": false, "domainColor": "#555555", "tickColor": "#555555", "tickSize": 3, "labelFontSize": 10.7, "labelFont": "Liberation Sans", "labelColor": "#000000", "labelPadding": 3, "labelFlush": false, "labelOverlap": false}}, "x2": {"field": "hi"}}},
            {"data": {"name": "C"}, "mark": {"type": "point", "shape": "square", "filled": true, "opacity": 1, "color": "#1a476f"}, "encoding": {"x": {"field": "or", "type": "quantitative"}, "size": {"field": "weight", "type": "quantitative", "scale": {"domain": [0, 40], "range": [0, 140]}, "legend": null}}},
            {"data": {"name": "C_ov"}, "transform": [{"fold": ["lo", "or", "hi"], "as": ["key", "val"]}], "mark": {"type": "trail", "color": "#4f8228"}, "encoding": {"x": {"field": "val", "type": "quantitative"}, "size": {"condition": {"test": "datum.key=='or'", "value": 8.5}, "value": 0}}}
          ]
        },
        {
          "width": 74, "height": 157,
          "encoding": {"y": {"field": "row", "type": "nominal", "axis": null, "scale": {"type": "point", "padding": 0.52, "domain": ["h1", "h2", "Masoumi, K. et al. 2016", "Baru, A. et al. 2019", "Garkaz, O. et al. 2020", "Overall", "het", "q", "z"]}}},
          "layer": [
            {"data": {"name": "C_txt"}, "transform": [{"filter": "datum.col=='study' && datum.row=='h2'"}], "mark": {"type": "rule", "yOffset": 2, "color": "#222222"}, "encoding": {}},
            {"data": {"name": "C_txt"}, "transform": [{"filter": "datum.col=='or' && datum.row=='h1'"}], "mark": {"type": "text", "fontSize": 10.7}, "encoding": {"text": {"field": "text"}}},
            {"data": {"name": "C_txt"}, "transform": [{"filter": "datum.col=='or' && datum.row=='h2'"}], "mark": {"type": "text", "fontSize": 10.7, "dy": -5.7, "dx": -1}, "encoding": {"text": {"field": "text"}}},
            {"data": {"name": "C"}, "mark": {"type": "text", "fontSize": 10.7, "dx": 3.5}, "encoding": {"text": {"field": "ci"}}},
            {"data": {"name": "C_ov"}, "mark": {"type": "text", "fontSize": 10.7, "dx": 3.5, "dy": 2}, "encoding": {"text": {"field": "ci"}}}
          ]
        },
        {
          "width": 54, "height": 157,
          "encoding": {"y": {"field": "row", "type": "nominal", "axis": null, "scale": {"type": "point", "padding": 0.52, "domain": ["h1", "h2", "Masoumi, K. et al. 2016", "Baru, A. et al. 2019", "Garkaz, O. et al. 2020", "Overall", "het", "q", "z"]}}},
          "layer": [
            {"data": {"name": "C_txt"}, "transform": [{"filter": "datum.col=='study' && datum.row=='h2'"}], "mark": {"type": "rule", "yOffset": 2, "color": "#222222"}, "encoding": {}},
            {"data": {"name": "C_txt"}, "transform": [{"filter": "datum.col=='w' && datum.row=='h1'"}], "mark": {"type": "text", "fontSize": 10.7, "dx": 3}, "encoding": {"text": {"field": "text"}}},
            {"data": {"name": "C_txt"}, "transform": [{"filter": "datum.col=='w' && datum.row=='h2'"}], "mark": {"type": "text", "fontSize": 10.7, "dy": -5.7, "dx": 1}, "encoding": {"text": {"field": "text"}}},
            {"data": {"name": "C"}, "mark": {"type": "text", "fontSize": 10.7, "dx": 0.5}, "encoding": {"text": {"field": "weight", "type": "quantitative", "format": ".2f"}}}
          ]
        }
      ]
    }
  ]
}
